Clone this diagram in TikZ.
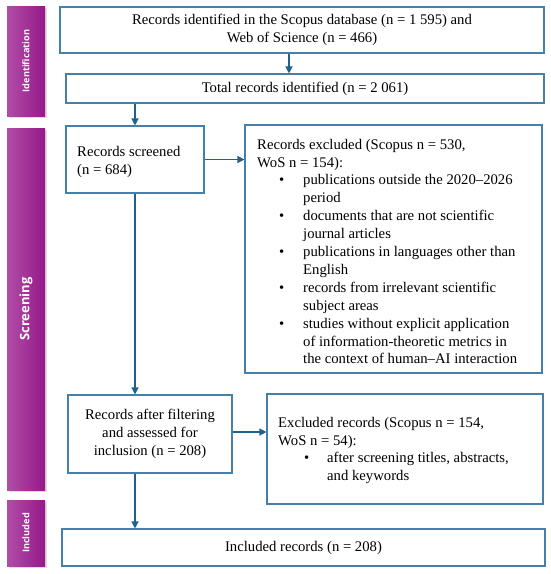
\documentclass[tikz,border=0pt]{standalone}
\usepackage{fontspec}
\setmainfont{Liberation Serif}
\newfontfamily\barfont{Open Sans}
\usetikzlibrary{arrows.meta,shadows,calc}
\definecolor{boxblue}{RGB}{70,128,168}
\definecolor{arrblue}{RGB}{30,98,140}
\definecolor{purpL}{RGB}{176,78,166}
\definecolor{purpR}{RGB}{150,24,138}
\tikzset{
  flowbox/.style={draw=boxblue, line width=1.1pt, fill=white, inner sep=0pt, align=center,
    font=\fontsize{14.7}{17.9}\selectfont},
  txt/.style={inner sep=0pt, align=left, font=\fontsize{14.7}{17.9}\selectfont},
  arr/.style={draw=arrblue, line width=1.3pt, -{Triangle[length=7pt,width=7pt]}},
  phase/.style={inner sep=0pt, left color=purpL, right color=purpR, draw=none,
    drop shadow={shadow xshift=1.8pt, shadow yshift=-1.8pt, opacity=0.28}},
  phaselbl/.style={rotate=90, text=white, inner sep=0pt, font=\barfont\bfseries}
}
\begin{document}
\begin{tikzpicture}[x=1pt,y=-1pt]
\useasboundingbox (0,0) rectangle (550,574);
% phase bars
\node[phase, minimum width=38pt, minimum height=110pt] (pid) at (26,61) {};
\node[phase, minimum width=38pt, minimum height=362pt] (psc) at (26,309) {};
\node[phase, minimum width=38pt, minimum height=66pt] (pin) at (26,533) {};
\node[phaselbl, font=\barfont\bfseries\fontsize{9.2}{10}\selectfont] (lid) at (pid.center) {Identification};
\node[phaselbl, font=\barfont\bfseries\fontsize{13}{14}\selectfont] (lsc) at (psc.center) {Screening};
\node[phaselbl, font=\barfont\bfseries\fontsize{9.2}{10}\selectfont] (lin) at (pin.center) {Included};
% boxes
\node[flowbox, minimum width=484pt, minimum height=46pt] (b1) at (302,30)
  {Records identified in the Scopus database (n = 1 595) and\\Web of Science (n = 466)};
\node[flowbox, minimum width=478pt, minimum height=29pt] (b2) at (305,88.5)
  {Total records identified (n = 2 061)};
\node[flowbox, minimum width=138pt, minimum height=67pt] (scr) at (135,159.5) {};
\node[txt, anchor=west] (scrt) at (77,162) {Records screened\\(n = 684)};
\node[flowbox, minimum width=297pt, minimum height=248pt] (ex1) at (393.5,249) {};
\node[txt, anchor=west] (ex1t) at (257,251.5) {%
Records excluded (Scopus n = 530,\\
WoS n = 154):\\
\makebox[46pt][l]{\hspace*{22pt}•}publications outside the 2020–2026\\
\hspace*{46pt}period\\
\makebox[46pt][l]{\hspace*{22pt}•}documents that are not scientific\\
\hspace*{46pt}journal articles\\
\makebox[46pt][l]{\hspace*{22pt}•}publications in languages other than\\
\hspace*{46pt}English\\
\makebox[46pt][l]{\hspace*{22pt}•}records from irrelevant scientific\\
\hspace*{46pt}subject areas\\
\makebox[46pt][l]{\hspace*{22pt}•}studies without explicit application\\
\hspace*{46pt}of information-theoretic metrics in\\
\hspace*{46pt}the context of human–AI interaction};
\node[flowbox, minimum width=164pt, minimum height=78pt] (flt) at (150,434)
  {Records after filtering\\and assessed for\\inclusion (n = 208)};
\node[flowbox, minimum width=276pt, minimum height=110pt] (ex2) at (405,449) {};
\node[txt, anchor=west] (ex2t) at (278,450.5) {%
Excluded records (Scopus n = 154,\\
WoS n = 54):\\
\makebox[49pt][l]{\hspace*{26pt}•}after screening titles, abstracts,\\
\hspace*{49pt}and keywords};
\node[flowbox, minimum width=483pt, minimum height=37pt] (inc) at (303.5,547.5)
  {Included records (n = 208)};
% connectors
\draw[arr] ([xshift=-13pt]b1.south) -- ([xshift=-13pt]b1.south |- b2.north);
\draw[arr] (b2.south -| scr.north) -- (scr.north);
\draw[arr] (scr.east) -- (scr.east -| ex1.west);
\draw[arr] (scr.south) -- (scr.south |- flt.north);
\draw[arr] ([yshift=2pt]flt.east) -- ([yshift=2pt]flt.east -| ex2.west);
\draw[arr] (scr.south |- flt.south) -- (scr.south |- inc.north);
\end{tikzpicture}
\end{document}
